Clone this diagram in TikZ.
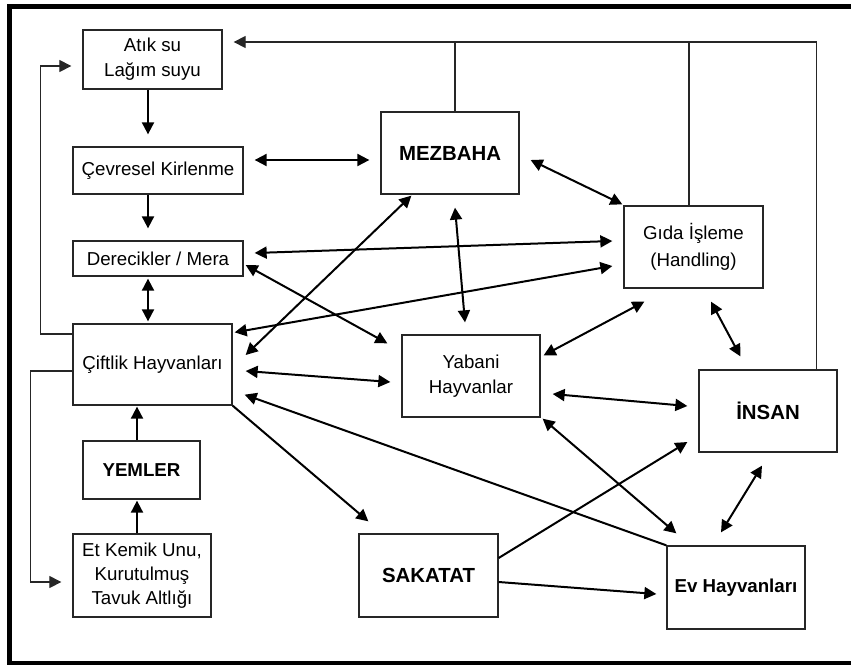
\documentclass[tikz,border=0pt]{standalone}
\usepackage{fontspec}
\setmainfont{Liberation Sans}
\usetikzlibrary{arrows.meta,calc}
\begin{document}
\begin{tikzpicture}[x=1pt,y=-1pt,
 box/.style={draw=black!85,line width=1.3pt,inner sep=0pt,align=center,font=\fontsize{18.7}{25}\selectfont},
 bbox/.style={box,font=\fontsize{20.4}{25}\selectfont\bfseries},
 sbbox/.style={box,font=\fontsize{18.7}{25}\selectfont\bfseries},
 tipend/.style={-{Triangle[length=12pt,width=12pt]}},
 both/.style={{Triangle[length=12pt,width=12pt]}-{Triangle[length=12pt,width=12pt]}},
 arr/.style={line width=2pt},
 thinl/.style={line width=1.2pt, draw=black!85}
]
\clip (0,0) rectangle (851,664);
\useasboundingbox (0,0) rectangle (851,664);
\draw[line width=5pt] (9.5,6.5) rectangle (870,663.5);

% nodes
\node[box,minimum width=139pt,minimum height=59pt] (atik) at (152.5,59.5) {Atık su\\Lağım suyu};
\node[box,minimum width=170pt,minimum height=47pt] (cev) at (158,170.5) {Çevresel Kirlenme};
\node[box,minimum width=170pt,minimum height=35pt] (der) at (158,258.5) {Derecikler / Mera};
\node[box,minimum width=159pt,minimum height=81pt] (cift) at (152.5,364.5) {Çiftlik Hayvanları};
\node[sbbox,minimum width=117pt,minimum height=58pt] (yem) at (141.5,470) {YEMLER};
\node[box,minimum width=138pt,minimum height=83pt,font=\fontsize{18.7}{24}\selectfont] (et) at (142,575.5) {Et Kemik Unu,\\Kurutulmuş\\Tavuk Altlığı};
\node[bbox,minimum width=138pt,minimum height=82pt] (mez) at (450,153) {MEZBAHA};
\node[box,minimum width=139pt,minimum height=82pt,font=\fontsize{18.7}{27}\selectfont] (gida) at (693.5,247) {\raisebox{-4pt}{\parbox{130pt}{\centering Gıda İşleme\\(Handling)}}};
\node[box,minimum width=138pt,minimum height=82pt] (yab) at (471,376) {Yabani\\Hayvanlar};
\node[bbox,minimum width=138pt,minimum height=82pt] (ins) at (768,411) {İNSAN};
\node[bbox,minimum width=139pt,minimum height=83pt] (sak) at (428.5,575.5) {SAKATAT};
\node[sbbox,minimum width=138pt,minimum height=83pt] (ev) at (736,587.5) {Ev Hayvanları};

\coordinate (topy) at (0,42);

% top collector line
\draw[thinl,line width=1.3pt,tipend] ($(ins.north east)+(-21,0)$) |- ($(atik.east)+(11,-17.5)$);
\draw[thinl] ($(mez.north)+(5,0)$) coordinate (m1) -- (m1 |- topy);
\draw[thinl] ($(gida.north)+(-4.5,0)$) coordinate (g1) -- (g1 |- topy);

% left loops
\draw[thinl,tipend] ($(cift.west)+(0,-30.5)$) -- ++(-32,0) |- ($(atik.west)+(-11,6.5)$);
\draw[thinl,tipend] ($(cift.west)+(0,6.5)$) -- ++(-42,0) |- ($(et.west)+(-11,6.5)$);

% left column
\draw[arr,tipend] ($(atik.south)+(-4.5,0)$) -- ($(cev.north)+(-10,-12)$);
\draw[arr,tipend] ($(cev.south)+(-10,0)$) -- ($(der.north)+(-10,-12)$);
\draw[arr,both] ($(der.south)+(-10,2)$) -- ($(cift.north)+(-4.5,-2)$);
\draw[arr,tipend] ($(yem.north)+(-4.5,0)$) -- ($(cift.south)+(-15.5,1)$);
\draw[arr,tipend] ($(et.north)+(-5,0)$) -- ($(yem.south)+(-4.5,1)$);

% network
\draw[arr,both] ($(cev.east)+(11,-10.5)$) -- ($(mez.west)+(-11,7)$);
\draw[arr,both] ($(der.east)+(11,-5.5)$) -- ($(gida.west)+(-11,-6)$);
\draw[arr,both] ($(der.east)+(2,6.5)$) -- ($(yab.north west)+(-14,9)$);
\draw[arr,both] ($(cift.north east)+(2,9)$) -- ($(gida.west)+(-11,19)$);
\draw[arr,both] ($(cift.east)+(13,-9.5)$) -- ($(mez.south west)+(31,1)$);
\draw[arr,both] ($(mez.east)+(11,7)$) -- ($(gida.north west)+(-1,-1)$);
\draw[arr,both] ($(mez.south)+(5,13)$) -- ($(yab.north)+(-6,-12)$);
\draw[arr,both] ($(cift.east)+(13,6.5)$) -- ($(yab.west)+(-11,6)$);
\draw[arr,both] ($(yab.north east)+(3,21)$) -- ($(gida.south west)+(21,13)$);
\draw[arr,both] ($(gida.south)+(17.5,13)$) -- ($(ins.north west)+(42,-13)$);
\draw[arr,both] ($(yab.east)+(12,18)$) -- ($(ins.west)+(-11,-5)$);
\draw[arr,both] ($(yab.south east)+(2,1)$) -- ($(ev.north west)+(10,-12)$);
\draw[arr,both] ($(ins.south)+(-6,13)$) -- ($(ev.north)+(-15,-13)$);
\draw[arr,tipend] (ev.north west) -- ($(cift.south east)+(12,-11)$);
\draw[arr,tipend] (cift.south east) -- ($(sak.north west)+(10,-12)$);
\draw[arr,tipend] ($(sak.east)+(0,-17.5)$) -- ($(ins.west)+(-11,31)$);
\draw[arr,tipend] ($(sak.east)+(0,6.5)$) -- ($(ev.west)+(-10,6.5)$);
\end{tikzpicture}
\end{document}
